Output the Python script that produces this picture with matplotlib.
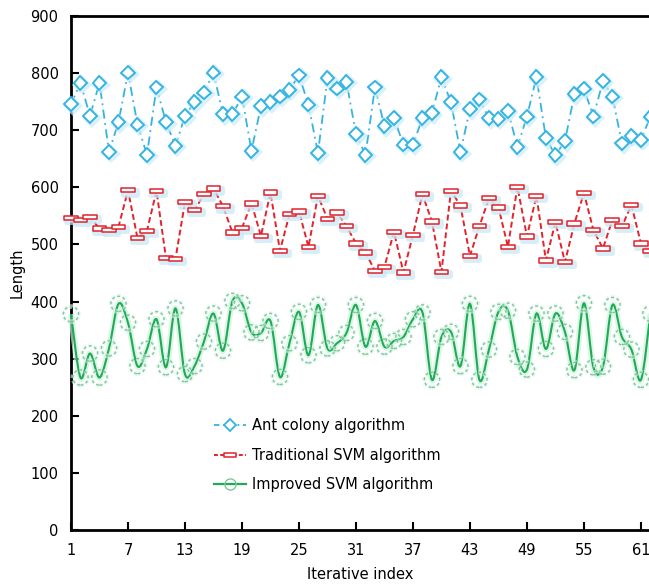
import numpy as np
import matplotlib
matplotlib.use("Agg")
import matplotlib.pyplot as plt
from matplotlib.path import Path
from matplotlib.patches import PathPatch
from matplotlib.lines import Line2D
import matplotlib.patheffects as pe

iterations = list(range(1, 63))
ant_colony = [746, 783, 725, 783, 662, 714, 801, 710, 657, 775,
              714, 673, 725, 749, 766, 801, 728, 728, 759, 664,
              742, 749, 759, 771, 796, 745, 660, 791, 773, 785,
              693, 657, 775, 707, 721, 675, 675, 721, 730, 793,
              749, 662, 737, 754, 721, 720, 734, 671, 724, 793,
              686, 656, 681, 763, 773, 724, 786, 759, 677, 690,
              683, 724]
traditional_svm = [546, 543, 548, 528, 525, 531, 595, 511, 524, 594,
                   476, 475, 574, 560, 588, 598, 567, 521, 529, 572,
                   515, 591, 489, 553, 558, 496, 585, 545, 556, 532,
                   502, 486, 454, 461, 522, 451, 517, 588, 540, 452,
                   594, 568, 480, 532, 581, 565, 496, 601, 514, 585,
                   472, 539, 469, 537, 590, 525, 493, 543, 532, 569,
                   502, 489]
improved_svm = [378, 267, 309, 267, 318, 396, 363, 287, 317, 369,
                285, 388, 273, 287, 330, 379, 314, 401, 397, 346,
                345, 366, 268, 327, 382, 306, 394, 318, 327, 345,
                394, 321, 366, 321, 331, 338, 369, 381, 263, 338,
                347, 287, 396, 263, 316, 382, 384, 303, 281, 379,
                317, 379, 347, 280, 397, 285, 286, 394, 338, 316,
                263, 379]
labels = ["Ant colony algorithm", "Traditional SVM algorithm", "Improved SVM algorithm"]
xticks = [1, 7, 13, 19, 25, 31, 37, 43, 49, 55, 61]
yticks = [0, 100, 200, 300, 400, 500, 600, 700, 800, 900]

BLUE = "#35b4e2"
RED = "#e3222b"
GREEN = "#1faa55"
GREEN_M = "#7fc79a"

plt.rcParams['font.family'] = ['DejaVu Sans']

fig = plt.figure(figsize=(6.49, 5.87), dpi=100)
ax = fig.add_axes([0.1094, 0.0971, 0.8906, 0.8756])

x = np.array(iterations, dtype=float)

# Ant colony
glow_b = [pe.Stroke(linewidth=3, foreground="#c8ecfa", alpha=0.7, offset=(1.2, -1.2)), pe.Normal()]
ax.plot(x, ant_colony, color=BLUE, lw=1.3, ls=(0, (5, 2.5, 1, 2.5)), clip_on=False, zorder=3)
ax.plot(x, ant_colony, ls='none', marker='D', ms=7, mfc='white', mec=BLUE, mew=1.4,
        clip_on=False, zorder=4, path_effects=glow_b)

# Traditional SVM
rect = Path([(-1, -0.32), (1, -0.32), (1, 0.32), (-1, 0.32), (-1, -0.32)],
            [Path.MOVETO, Path.LINETO, Path.LINETO, Path.LINETO, Path.CLOSEPOLY])
glow_r = [pe.Stroke(linewidth=3.5, foreground="#c4e8f6", alpha=0.7, offset=(1.2, -1.5)), pe.Normal()]
ax.plot(x, traditional_svm, color=RED, lw=1.4, ls=(0, (3, 1.6)), clip_on=False, zorder=3)
ax.plot(x, traditional_svm, ls='none', marker=rect, ms=10, mfc='white', mec=RED, mew=1.1,
        clip_on=False, zorder=4, path_effects=glow_r)

# Improved SVM: smooth curve through points (Catmull-Rom as cubic Bezier)
y = np.array(improved_svm, dtype=float)
P = np.column_stack([x, y])
verts = [tuple(P[0])]
codes = [Path.MOVETO]
n = len(P)
for i in range(n - 1):
    p0 = P[i - 1] if i > 0 else P[i]
    p1 = P[i]
    p2 = P[i + 1]
    p3 = P[i + 2] if i + 2 < n else P[i + 1]
    c1 = p1 + (p2 - p0) / 6.0
    c2 = p2 - (p3 - p1) / 6.0
    verts += [tuple(c1), tuple(c2), tuple(p2)]
    codes += [Path.CURVE4] * 3
curve = PathPatch(Path(verts, codes), fill=False, edgecolor=GREEN, lw=1.5, zorder=3,
                  transform=ax.transData, clip_on=False,
                  path_effects=[pe.Stroke(linewidth=4.5, foreground="#cdf2de", alpha=0.7), pe.Normal()])
ax.add_patch(curve)
ax.scatter(x, y, s=120, facecolors='none', edgecolors=GREEN_M, linewidths=1.0,
           linestyles=(0, (2.2, 1.8)), zorder=4, clip_on=False,
           path_effects=[pe.Stroke(linewidth=3.5, foreground="#d8f5e6", alpha=0.6), pe.Normal()])

ax.set_xlim(1, 61.85)
ax.set_ylim(0, 900)
ax.set_xticks(xticks)
ax.set_yticks(yticks)
ax.tick_params(direction='in', length=6, width=1.5, labelsize=10.5, pad=9)
for side in ['left', 'bottom', 'top']:
    ax.spines[side].set_linewidth(2)
ax.spines['right'].set_visible(False)
ax.set_xlabel("Iterative index", fontsize=10.5, labelpad=7)
ax.set_ylabel("Length", fontsize=10.5, labelpad=4)

handles = [
    Line2D([], [], color=BLUE, lw=1.3, ls=(0, (3, 2, 1, 2)), marker='D', ms=6, mfc='white', mec=BLUE, mew=1.3),
    Line2D([], [], color=RED, lw=1.4, ls=(0, (2, 1.2)), marker=rect, ms=8, mfc='white', mec=RED, mew=1.1),
    Line2D([], [], color=GREEN, lw=1.6, marker='o', ms=8, mfc='none', mec=GREEN_M, mew=1.0),
]
ax.legend(handles, labels, loc='upper left', bbox_to_anchor=(0.225, 0.243), frameon=False,
          fontsize=10.5, handlelength=2.2, handletextpad=0.4, labelspacing=1.0)

fig.savefig("out.png", dpi=100)
